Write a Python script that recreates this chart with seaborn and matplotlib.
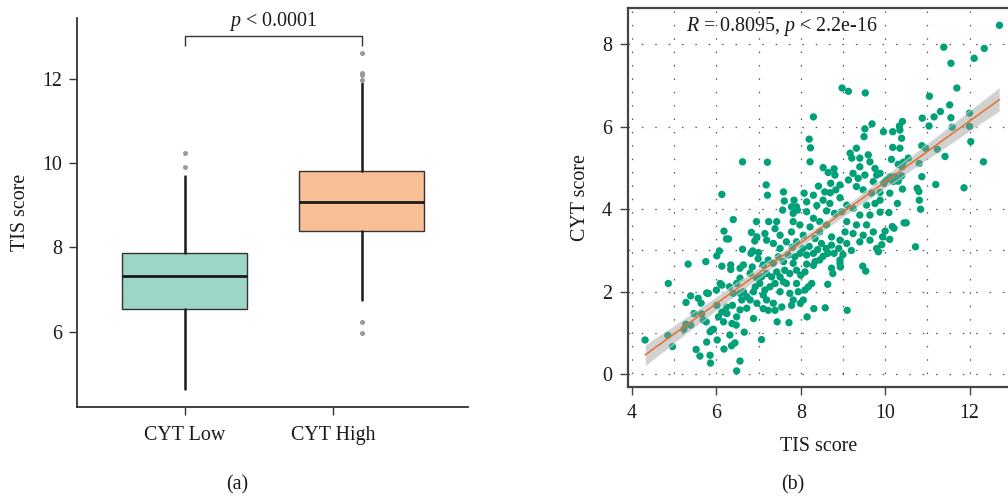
import matplotlib
matplotlib.use("Agg")
import matplotlib.pyplot as plt
import seaborn as sns
from matplotlib.ticker import MultipleLocator, FixedLocator
from matplotlib.collections import PolyCollection

# ---------------- Panel (a): box plot values ----------------
groups = ["CYT Low", "CYT High"]
box_q1 = [6.53, 8.38]
box_median = [7.32, 9.08]
box_q3 = [7.86, 9.81]
whisker_low = [4.64, 6.75]
whisker_high = [9.69, 11.90]
outliers_low = [9.92, 10.25]
outliers_high = [5.97, 6.22, 11.98, 12.10, 12.15, 12.63]
box_colors = ["#9dd5c6", "#f9bf96"]
p_text = r"$p$ < 0.0001"

# ---------------- Panel (b): scatter values ----------------
tis_upper = [12.71, 11.39, 12.35, 11.56, 12.11, 11.70, 8.98, 9.13, 9.53, 11.05, 8.30, 11.31,
             11.53, 11.16, 12.00, 10.88, 11.56, 10.41, 10.34, 9.69, 11.04, 11.59, 12.00]
cyt_upper = [8.46, 7.93, 7.90, 7.54, 7.66, 6.94, 6.94, 6.86, 6.82, 6.74, 6.24, 6.37,
             6.53, 6.24, 6.33, 6.21, 6.22, 6.13, 6.02, 6.07, 6.02, 5.99, 6.01]

tis_right = [9.96, 10.18, 10.35, 10.39, 10.18, 10.35, 10.87, 10.96, 11.24, 12.03, 11.42, 12.33,
             10.15, 10.55, 10.31, 10.43, 10.81, 10.40, 9.88, 10.11, 10.23, 10.03, 10.19, 10.31,
             10.39, 9.97, 10.87, 11.20, 11.87, 10.76, 10.80, 10.41, 9.88, 10.11, 9.88, 10.81,
             10.29, 10.84, 10.09, 9.88, 10.45, 10.50, 10.17, 10.21, 10.00, 9.94, 10.11, 9.92, 10.72]
cyt_right = [5.88, 5.88, 5.92, 5.72, 5.50, 5.48, 5.54, 5.48, 5.45, 5.64, 5.28, 5.15,
             5.21, 5.24, 5.09, 5.14, 5.11, 5.03, 4.87, 4.79, 4.79, 4.71, 4.67, 4.68,
             4.81, 4.63, 4.79, 4.60, 4.52, 4.51, 4.43, 4.49, 4.41, 4.39, 4.22, 4.22,
             4.14, 4.00, 3.92, 3.93, 3.67, 3.67, 3.58, 3.54, 3.47, 3.33, 3.27, 3.14, 3.09]

tis_mid = [9.52, 9.50, 8.20, 8.23, 8.22, 7.21, 7.18, 7.21, 7.59, 7.61,
           7.84, 7.90, 8.08, 8.14, 8.14, 8.30, 8.42, 8.53, 8.65, 8.71,
           8.79, 8.81, 8.70, 8.83, 8.93, 8.57, 8.53, 8.69, 9.17, 9.21,
           9.32, 9.40, 9.60, 9.64, 9.76, 9.40, 9.24, 9.13, 9.36, 9.52,
           9.72, 9.80, 9.32, 9.48, 9.68, 9.56, 9.76, 9.64, 9.40, 9.24,
           9.09, 8.97, 9.09, 9.32, 9.56, 9.72, 9.48, 9.24, 9.05, 8.93,
           9.09, 9.40, 9.64, 9.80, 8.73, 8.61, 8.45, 8.45, 8.30, 8.22,
           8.34, 8.49, 8.73, 8.06, 7.98, 7.82, 7.78, 7.90, 7.66, 7.51,
           7.43, 7.39, 7.24, 7.15, 7.19, 7.35, 7.51, 7.78, 7.57, 8.61,
           8.80, 8.93, 8.38, 7.92, 7.82]
cyt_mid = [5.95, 5.76, 5.70, 5.49, 5.15, 5.14, 4.59, 4.34, 4.42, 4.20,
           4.22, 4.06, 4.39, 4.18, 3.94, 4.34, 4.56, 5.01, 4.89, 4.63,
           4.98, 4.83, 4.40, 4.47, 4.59, 4.42, 4.22, 4.14, 5.36, 5.24,
           5.48, 5.24, 5.32, 5.15, 4.99, 5.03, 4.87, 4.71, 4.75, 4.83,
           4.67, 4.83, 4.55, 4.47, 4.39, 4.10, 4.14, 3.86, 3.86, 4.02,
           4.10, 3.94, 3.70, 3.62, 3.62, 3.45, 3.37, 3.41, 3.45, 3.25,
           3.17, 3.21, 3.25, 3.05, 3.33, 3.62, 3.70, 3.45, 3.78, 3.57,
           3.29, 3.17, 3.13, 3.37, 3.62, 3.70, 3.45, 3.21, 3.21, 3.37,
           3.70, 3.53, 3.70, 3.41, 3.25, 3.17, 3.05, 4.06, 3.98, 3.96,
           3.90, 4.28, 4.09, 3.98, 3.90]

tis_upleft = [6.62, 6.13, 6.40, 6.95, 6.18, 6.24, 6.29, 6.83, 6.91, 6.96, 6.62, 6.07, 6.86]
cyt_upleft = [5.15, 4.36, 3.75, 3.70, 3.47, 3.28, 3.28, 3.44, 3.23, 3.33, 3.03, 2.99, 2.99]

tis_lowleft = [4.31, 4.85, 4.96, 4.86, 5.33, 5.75, 6.01, 6.13, 6.34, 6.34,
               6.56, 6.64, 6.82, 6.80, 6.95, 6.56, 6.48, 6.31, 6.13, 6.09,
               6.00, 5.81, 5.77, 5.39, 5.57, 5.64, 5.28, 5.47, 5.65, 5.69,
               5.76, 6.01, 6.13, 6.05, 6.24, 6.25, 6.38, 6.40, 6.56, 6.64,
               6.72, 6.60, 6.80, 6.88, 6.96, 6.72, 6.56, 6.48, 6.17, 6.37,
               6.47, 5.89, 5.85, 5.93, 5.23, 5.28, 5.39, 5.77, 6.02, 6.32,
               6.44, 6.36, 6.18, 5.52, 5.61, 5.85, 5.86, 6.56, 6.48, 6.66,
               6.88, 6.92, 6.85, 6.99, 7.00]
cyt_lowleft = [0.83, 0.94, 0.67, 2.20, 2.67, 2.73, 2.87, 2.62, 2.65, 2.54,
               2.57, 2.65, 2.93, 2.45, 2.33, 2.33, 2.20, 2.12, 2.16, 2.20,
               2.04, 1.96, 1.97, 1.90, 1.84, 1.72, 1.74, 1.47, 1.46, 1.31,
               1.27, 1.67, 1.51, 1.39, 1.63, 1.47, 1.67, 1.96, 1.96, 2.00,
               1.88, 1.80, 1.80, 2.00, 1.72, 1.60, 1.56, 1.39, 1.27, 1.23,
               1.19, 1.07, 1.03, 1.09, 1.09, 1.21, 1.19, 0.78, 0.83, 0.95,
               0.76, 0.69, 0.61, 0.60, 0.44, 0.46, 0.27, 0.32, 0.08, 1.02,
               1.35, 2.12, 2.60, 2.80, 2.95]

tis_lowmid = [7.07, 7.44, 7.72, 8.15, 8.31, 8.58, 9.10, 9.47, 9.54, 9.84,
              8.64, 8.76, 8.73, 8.93, 8.93, 8.94, 8.79, 8.64, 8.53, 8.45,
              8.34, 8.30, 8.14, 8.10, 8.00, 8.26, 8.18, 8.10, 7.94, 8.06,
              7.99, 7.82, 7.78, 7.55, 7.35, 7.23, 7.11, 7.39, 7.19, 7.11,
              7.15, 7.27, 7.39, 7.51, 7.59, 7.66, 7.74, 7.62, 7.51, 7.43,
              7.31, 7.19, 7.07, 7.03, 7.11, 7.23, 7.35, 7.47, 7.59, 7.70,
              7.82, 7.86, 7.98, 8.14, 8.30, 7.90, 7.74, 7.90,
              8.05, 8.20, 8.40, 8.60, 7.80, 8.90, 9.20, 9.00]
cyt_lowmid = [0.84, 1.27, 1.25, 1.39, 1.59, 1.61, 1.55, 2.62, 2.50, 2.97,
              2.18, 2.44, 2.57, 2.77, 2.69, 2.60, 2.93, 2.93, 2.86, 2.77,
              2.73, 2.64, 2.67, 2.48, 2.40, 2.20, 2.12, 2.04, 2.00, 1.80,
              1.72, 1.80, 1.67, 1.63, 1.72, 1.55, 1.59, 1.55, 1.80, 1.92,
              2.04, 2.12, 2.20, 2.00, 2.24, 2.20, 2.44, 2.52, 2.36, 2.48,
              2.36, 2.44, 2.36, 2.20, 2.65, 2.77, 2.69, 2.85, 2.73, 2.89,
              2.69, 2.85, 2.93, 2.89, 2.93, 2.52, 1.96, 2.20,
              3.05, 3.10, 3.02, 3.05, 3.08, 3.05, 3.00, 2.90]

corr_text = r"$R$ = 0.8095, $p$ < 2.2e-16"

tis_score = tis_upper + tis_right + tis_mid + tis_upleft + tis_lowleft + tis_lowmid
cyt_score = cyt_upper + cyt_right + cyt_mid + cyt_upleft + cyt_lowleft + cyt_lowmid

# ---------------- Style ----------------
sns.set_theme(style="white")
plt.rcParams["font.family"] = ["Liberation Serif", "DejaVu Serif"]
plt.rcParams["mathtext.fontset"] = "custom"
plt.rcParams["mathtext.rm"] = "Liberation Serif"
plt.rcParams["mathtext.it"] = "Liberation Serif:italic"
FS = 14.4
W, H = 1008, 498

fig = plt.figure(figsize=(W / 100, H / 100), dpi=100)
fig.patch.set_facecolor("white")

# ---------------- Panel (a) ----------------
ax1 = fig.add_axes([77 / W, 1 - 407 / H, 391 / W, 389 / H])
stats = []
fliers = [outliers_low, outliers_high]
for i, g in enumerate(groups):
    stats.append(dict(label=g, q1=box_q1[i], med=box_median[i], q3=box_q3[i],
                      whislo=whisker_low[i], whishi=whisker_high[i], fliers=fliers[i]))
bp = ax1.bxp(stats, positions=[0, 1], widths=0.706, patch_artist=True, showcaps=False,
             boxprops=dict(edgecolor="#333333", linewidth=1.0),
             medianprops=dict(color="#1a1a1a", linewidth=2.0),
             whiskerprops=dict(color="#1a1a1a", linewidth=1.8),
             flierprops=dict(marker="o", markersize=3.6, markerfacecolor="#9a9a9a",
                             markeredgecolor="none"))
for patch, c in zip(bp["boxes"], box_colors):
    patch.set_facecolor(c)

ax1.set_xlim(-0.607, 1.60)
ax1.set_ylim(4.21, 13.45)
ax1.set_yticks([6, 8, 10, 12])
ax1.set_xticks([0, 0.839])
ax1.set_xticklabels(groups)
for s in ["top", "right"]:
    ax1.spines[s].set_visible(False)
for s in ["left", "bottom"]:
    ax1.spines[s].set_color("#333333")
    ax1.spines[s].set_linewidth(1.3)
ax1.tick_params(axis="both", direction="out", length=5.5, width=1.0, color="#333333",
                labelsize=FS, labelcolor="#1a1a1a", left=True, bottom=True)
ax1.tick_params(axis="x", pad=8)
ax1.tick_params(axis="y", pad=5)
ax1.set_ylabel("TIS score", fontsize=FS, color="#1a1a1a")
ax1.yaxis.set_label_coords(-0.120, 0.5)

# significance bracket
ax1.plot([0, 0, 1, 1], [12.79, 13.03, 13.03, 12.79], color="#333333", lw=1.0,
         solid_capstyle="butt")
ax1.text(0.5, 13.37, p_text, ha="center", va="center", fontsize=FS, color="#1a1a1a")

# ---------------- Panel (b) ----------------
ax2 = fig.add_axes([628 / W, 1 - 387 / H, 382 / W, 379 / H])
ax2.set_axisbelow(True)
sns.scatterplot(x=tis_score, y=cyt_score, ax=ax2, color="#00a079", s=28,
                edgecolor="none", linewidth=0, zorder=3, legend=False)
sns.regplot(x=tis_score, y=cyt_score, ax=ax2, scatter=False, ci=95, seed=0,
            color="#e8702a", line_kws=dict(lw=1.1, zorder=5))
for coll in ax2.collections:
    if isinstance(coll, PolyCollection):
        coll.set_facecolor("#999999")
        coll.set_alpha(0.45)
        coll.set_zorder(4)

ax2.set_xlim(3.905, 12.96)
ax2.set_ylim(-0.31, 8.88)
ax2.xaxis.set_major_locator(MultipleLocator(2))
ax2.xaxis.set_minor_locator(MultipleLocator(1))
ax2.yaxis.set_major_locator(FixedLocator([0, 2, 4, 6, 8]))
ax2.yaxis.set_minor_locator(FixedLocator([1, 3]))
ax2.grid(which="both", color="#555555", linestyle=(0, (1.2, 9.5)), linewidth=0.9)
for s in ax2.spines.values():
    s.set_visible(True)
    s.set_color("#444444")
    s.set_linewidth(1.6)
ax2.tick_params(axis="both", which="major", direction="out", length=5.5, width=1.0,
                color="#444444", labelsize=FS, labelcolor="#1a1a1a", left=True, bottom=True)
ax2.tick_params(axis="both", which="minor", length=0)
ax2.tick_params(axis="x", pad=7)
ax2.tick_params(axis="y", pad=6)
ax2.set_xlabel("TIS score", fontsize=FS, color="#1a1a1a")
ax2.set_ylabel("CYT score", fontsize=FS, color="#1a1a1a")
ax2.xaxis.set_label_coords(0.5, -0.132)
ax2.yaxis.set_label_coords(-0.0995, 0.5)

fig.text(686 / W, 1 - 27 / H, corr_text, ha="left", va="center", fontsize=FS, color="#1a1a1a")

# panel tags
fig.text(237 / W, 1 - 485 / H, "(a)", ha="center", va="center", fontsize=FS, color="#1a1a1a")
fig.text(793 / W, 1 - 485 / H, "(b)", ha="center", va="center", fontsize=FS, color="#1a1a1a")

fig.savefig("out.png", dpi=100, facecolor="white")
